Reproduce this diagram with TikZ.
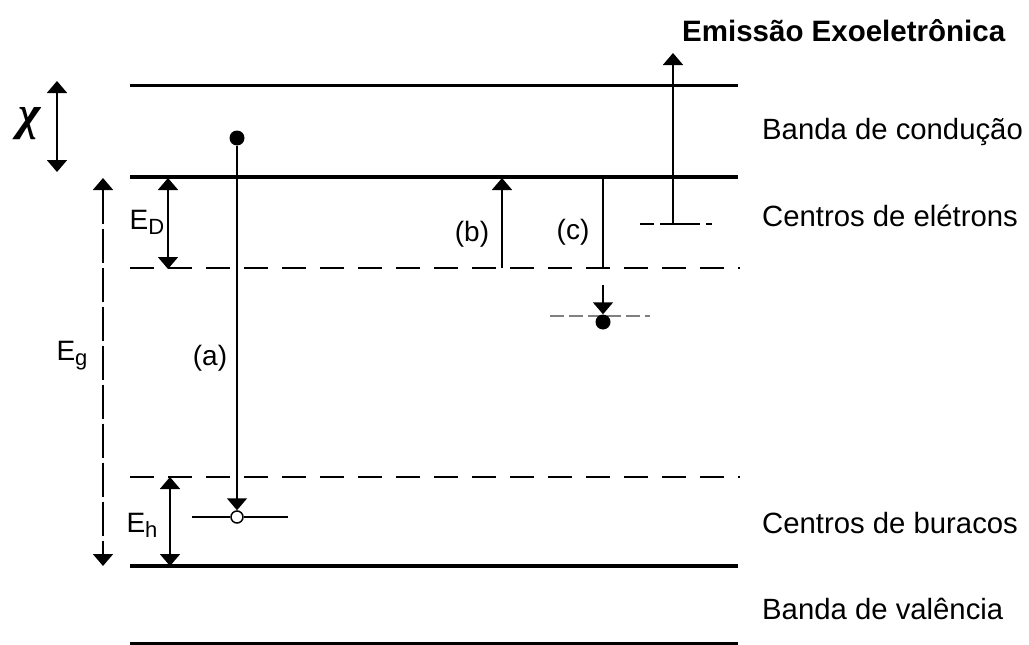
\documentclass[tikz,border=0pt]{standalone}
\usepackage{fontspec}
\setmainfont{Liberation Sans}
\newfontfamily\chifont{Liberation Serif}
\usetikzlibrary{arrows.meta}
\begin{document}
\begin{tikzpicture}[x=1pt,y=-1pt,
  band/.style={line width=3.8pt},
  lvl/.style={line width=1.9pt, dash pattern=on 24pt off 14pt},
  thin/.style={line width=1.8pt},
  tip/.style={-{Triangle[width=20pt,length=12pt]}},
  dtip/.style={{Triangle[width=20pt,length=12pt]}-{Triangle[width=20pt,length=12pt]}},
  lbl/.style={font=\fontsize{29.3}{33}\selectfont, anchor=west, inner sep=0pt},
  sm/.style={font=\fontsize{28}{32}\selectfont, inner sep=0pt}]
\useasboundingbox (0,0) rectangle (1029,645);
% levels
\coordinate (cbtL) at (130,85);  \coordinate (cbtR) at (738,85);
\coordinate (cbL) at (130,177);  \coordinate (cbR) at (738,177);
\coordinate (ecL) at (130,268);  \coordinate (ecR) at (740,268);
\coordinate (hcL) at (130,477);  \coordinate (hcR) at (740,477);
\coordinate (vbL) at (130,566);  \coordinate (vbR) at (738,566);
\coordinate (vbbL) at (130,643); \coordinate (vbbR) at (738,643);
\draw[line width=3pt] (cbtL) -- (cbtR);
\draw[band] (cbL) -- (cbR);
\draw[lvl] (ecL) -- (ecR);
\draw[lvl] (hcL) -- (hcR);
\draw[band] (vbL) -- (vbR);
\draw[line width=3pt] (vbbL) -- (vbbR);
% chi
\coordinate (chiT) at (57,81); \coordinate (chiB) at (57,172);
\draw[thin,dtip] (chiT) -- (chiB);
\node[font=\fontsize{48}{48}\selectfont\chifont\bfseries\itshape, inner sep=0pt] (chi) at (30,124) {χ};
% Eg
\coordinate (egT) at (103,178); \coordinate (egB) at (103,566);
\draw[thin,dtip,dash pattern=on 34pt off 5pt] (egT) -- (egB);
\node[sm] (eg) at (72,356) {E\raisebox{-5pt}{\fontsize{22}{22}\selectfont g}};
% ED
\coordinate (edT) at (168,178); \coordinate (edB) at (168,269);
\draw[thin,dtip] (edT) -- (edB);
\node[sm] (ed) at (147,222) {E\raisebox{-5pt}{\fontsize{22}{22}\selectfont D}};
% Eh
\coordinate (ehT) at (170,477); \coordinate (ehB) at (170,566);
\draw[thin,dtip] (ehT) -- (ehB);
\node[sm] (eh) at (142,525) {E\raisebox{-5pt}{\fontsize{22}{22}\selectfont h}};
% (a)
\node[circle, fill=black, minimum size=15pt, inner sep=0pt] (aTop) at (237,138) {};
\node[circle, draw=black, fill=white, line width=1.5pt, minimum size=12pt, inner sep=0pt] (aBot) at (237,517) {};
\coordinate (hlL) at (192,517); \coordinate (hlR) at (288,517);
\draw[thin] (hlL) -- (aBot.west);
\draw[thin] (aBot.east) -- (hlR);
\draw[thin,tip] (aTop) -- (aBot.north);
\node[sm] (la) at (210,358) {(a)};
% (b)
\coordinate (bB) at (502,268); \coordinate (bT) at (502,178);
\draw[thin,tip] (bB) -- (bT);
\node[sm] (lb) at (472,234) {(b)};
% (c)
\coordinate (cT) at (603,177); \coordinate (cM) at (603,268); \coordinate (cA) at (603,285);
\coordinate (cLL) at (550,316); \coordinate (cLR) at (650,316);
\draw[line width=1.4pt, gray, dash pattern=on 14pt off 5pt] (cLL) -- (cLR);
\node[circle, fill=black, minimum size=15pt, inner sep=0pt] (cDot) at (603,322) {};
\draw[thin] (cT) -- (cM);
\draw[thin,tip] (cA) -- (cDot.north);
\node[sm] (lc) at (573,232) {(c)};
% exo emission
\coordinate (xB) at (673,224); \coordinate (xT) at (673,53);
\coordinate (xLL) at (640,224); \coordinate (xLR) at (712,224);
\draw[line width=1.8pt, dash pattern=on 14pt off 6pt on 40pt off 6pt] (xLL) -- (xLR);
\draw[thin,tip] (xB) -- (xT);
% labels
\node[font=\fontsize{29.5}{33}\selectfont\bfseries, inner sep=0pt, anchor=west] (title) at (682,31) {Emissão Exoeletrônica};
\node[lbl] (bc) at (762,132) {Banda de condução};
\node[lbl] (ce) at (762,216) {Centros de elétrons};
\node[lbl] (cb) at (762,523) {Centros de buracos};
\node[lbl] (bv) at (762,609) {Banda de valência};
\end{tikzpicture}
\end{document}
